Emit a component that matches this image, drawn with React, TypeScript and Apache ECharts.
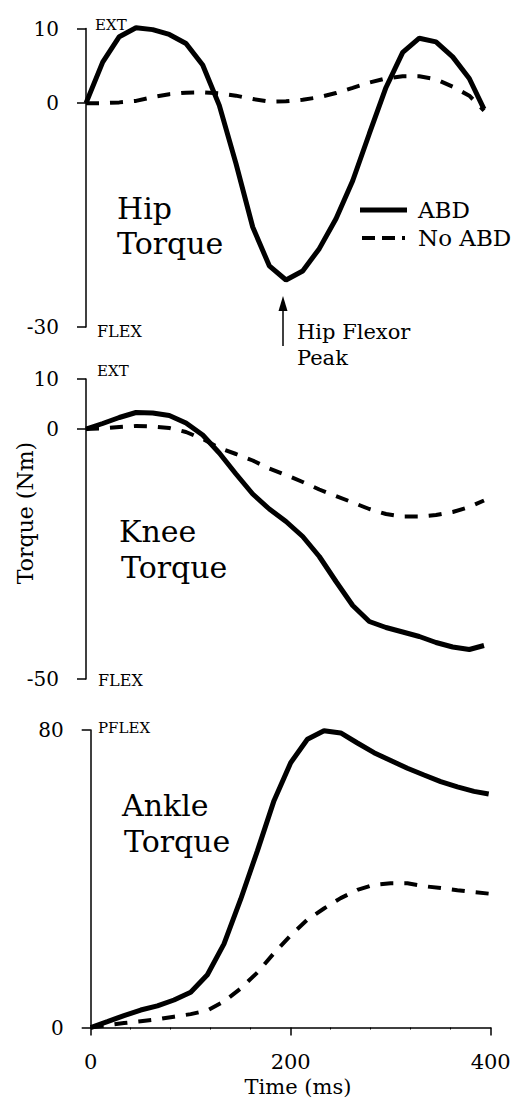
import React, { useEffect, useRef } from "react";
import * as echarts from "echarts";

const times = [0, 16.7, 33.3, 50, 66.7, 83.3, 100, 116.7, 133.3, 150, 166.7, 183.3, 200, 216.7, 233.3, 250, 266.7, 283.3, 300, 316.7, 333.3, 350, 366.7, 383.3, 398];

const hipAbd = [0, 5.5, 8.9, 10.1, 9.85, 9.2, 8.0, 5.1, -0.3, -8.1, -16.6, -21.8, -23.7, -22.5, -19.5, -15.5, -10.4, -4.1, 2.1, 6.8, 8.7, 8.2, 6.2, 3.3, -0.8];
const hipNoAbd = [0, 0.0, 0.1, 0.3, 0.8, 1.2, 1.4, 1.45, 1.3, 1.0, 0.55, 0.2, 0.25, 0.45, 0.8, 1.35, 2.05, 2.75, 3.3, 3.6, 3.6, 3.2, 2.2, 1.0, -1.0];

const kneeAbd = [0, 1.1, 2.3, 3.3, 3.2, 2.7, 1.2, -1.2, -4.8, -9.0, -13.0, -16.0, -18.5, -21.5, -25.5, -30.5, -35.3, -38.5, -39.7, -40.6, -41.5, -42.7, -43.6, -44.1, -43.3];
const kneeNoAbd = [0, 0.1, 0.4, 0.6, 0.5, 0.2, -0.6, -2.0, -3.8, -5.0, -6.3, -7.9, -9.2, -10.6, -12.1, -13.4, -14.7, -16.0, -17.0, -17.5, -17.5, -17.2, -16.6, -15.6, -14.3];

const ankleAbd = [0, 1.6, 3.2, 4.7, 5.8, 7.4, 9.5, 14.2, 22.5, 34.5, 47.5, 61, 71.2, 77.5, 79.8, 79.2, 76.5, 73.9, 71.8, 69.7, 67.9, 66.1, 64.7, 63.5, 62.8];
const ankleNoAbd = [0, 0.6, 1.2, 1.7, 2.2, 2.9, 3.6, 4.6, 7.0, 10.5, 14.8, 20.0, 24.8, 29.0, 32.0, 34.8, 37.0, 38.4, 38.8, 38.8, 38.0, 37.5, 36.9, 36.4, 36.0];

const hipTicks = [-30, 0, 10];
const kneeTicks = [-50, 0, 10];
const ankleTicks = [0, 80];
const timeTicks = [0, 200, 400];

const FONT = "DejaVu Serif";

const pairs = (vals: number[]) => vals.map((v, i) => [times[i], v]);

export default function App() {
  const ref = useRef<HTMLDivElement>(null);
  useEffect(() => {
    if (!ref.current) return;
    const chart = echarts.init(ref.current, null, { renderer: "svg" });

    const yAxisBase = (idx: number, min: number, max: number, ticks: number[]) => ({
      type: "value",
      gridIndex: idx,
      min,
      max,
      splitLine: { show: false },
      axisLine: { show: true, lineStyle: { color: "#000", width: 1.5 } },
      axisTick: { show: true, length: 9, customValues: ticks, lineStyle: { color: "#000", width: 1.5 } },
      axisLabel: { customValues: ticks, margin: 27, color: "#000", fontFamily: FONT, fontSize: 20 },
    });

    const xHidden = (idx: number) => ({
      type: "value",
      gridIndex: idx,
      min: 0,
      max: 400,
      show: false,
    });

    const solid = { color: "#000", width: 5, type: "solid" };
    const dashed = { color: "#000", width: 4, type: [13, 11] };

    const mk = (name: string, idx: number, vals: number[], ls: any) => ({
      name,
      type: "line",
      xAxisIndex: idx,
      yAxisIndex: idx,
      data: pairs(vals),
      symbol: "none",
      clip: false,
      lineStyle: ls,
      itemStyle: { color: "#000" },
    });

    const txt = (text: string, x: number, y: number, size: number, extra: any = {}) => ({
      type: "text",
      x,
      y,
      style: {
        text,
        fill: "#000",
        fontFamily: FONT,
        fontSize: size,
        textAlign: "left",
        textVerticalAlign: "middle",
        ...extra,
      },
    });

    chart.setOption({
      animation: false,
      backgroundColor: "#fff",
      grid: [
        { left: 86, right: 29, top: 28.5, height: 298.5 },
        { left: 86, right: 29, top: 379, height: 300 },
        { left: 90.7, right: 24.3, top: 730, height: 297.5 },
      ],
      xAxis: [
        xHidden(0),
        xHidden(1),
        {
          type: "value",
          gridIndex: 2,
          min: 0,
          max: 400,
          interval: 200,
          splitLine: { show: false },
          axisLine: { show: true, lineStyle: { color: "#000", width: 1.5 } },
          axisTick: { show: true, length: 8, lineStyle: { color: "#000", width: 1.5 } },
          minorTick: { show: true, splitNumber: 5, length: 2, lineStyle: { color: "#000", width: 1 } },
          axisLabel: { customValues: timeTicks, margin: 24, color: "#000", fontFamily: FONT, fontSize: 21 },
        },
      ],
      yAxis: [
        yAxisBase(0, -30, 10, hipTicks),
        yAxisBase(1, -50, 10, kneeTicks),
        yAxisBase(2, 0, 80, ankleTicks),
      ],
      series: [
        mk("ABD", 0, hipAbd, solid),
        mk("No ABD", 0, hipNoAbd, dashed),
        mk("ABD", 1, kneeAbd, solid),
        mk("No ABD", 1, kneeNoAbd, dashed),
        mk("ABD", 2, ankleAbd, solid),
        mk("No ABD", 2, ankleNoAbd, dashed),
      ],
      graphic: [
        txt("EXT", 95, 25, 15),
        txt("FLEX", 97, 331, 16),
        txt("EXT", 97, 371, 15),
        txt("FLEX", 98, 680, 16),
        txt("PFLEX", 98, 728, 15),
        txt("Hip", 117, 208, 30),
        txt("Torque", 117, 243, 30),
        txt("Knee", 119, 531, 30),
        txt("Torque", 121, 567, 30),
        txt("Ankle", 122, 805, 30),
        txt("Torque", 124, 841, 30),
        txt("ABD", 418, 210, 23),
        txt("No ABD", 418, 238, 23),
        {
          type: "line",
          shape: { x1: 360, y1: 210, x2: 407, y2: 210 },
          style: { stroke: "#000", lineWidth: 5 },
        },
        {
          type: "line",
          shape: { x1: 362, y1: 238, x2: 405, y2: 238 },
          style: { stroke: "#000", lineWidth: 4, lineDash: [13, 7] },
        },
        {
          type: "line",
          shape: { x1: 283, y1: 346, x2: 283, y2: 308 },
          style: { stroke: "#000", lineWidth: 1.5 },
        },
        {
          type: "polygon",
          shape: { points: [[283, 296], [278.5, 311], [287.5, 311]] },
          style: { fill: "#000" },
        },
        txt("Hip Flexor", 297, 332, 21),
        txt("Peak", 297, 358, 21),
        txt("Torque (Nm)", 25, 513, 22, { textAlign: "center" }),
        txt("Time (ms)", 298, 1087, 21, { textAlign: "center" }),
      ].map((g: any) =>
        g.style && g.style.text === "Torque (Nm)" ? { ...g, rotation: Math.PI / 2 } : g
      ),
    });
    return () => chart.dispose();
  }, []);
  return (
    <div
      ref={ref}
      style={{ position: "absolute", left: 0, top: 0, width: 515, height: 1098 }}
    />
  );
}
